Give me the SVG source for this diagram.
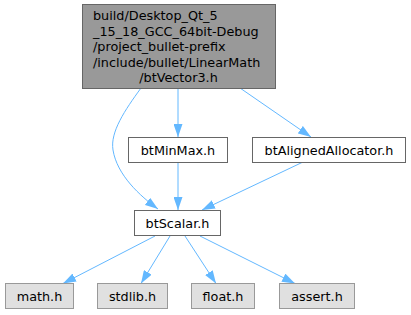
<svg xmlns="http://www.w3.org/2000/svg" width="411" height="315" viewBox="0 0 411 315">
  <defs>
    <style>
      text { font-family: "DejaVu Sans", "Liberation Sans", sans-serif; font-size: 12.8px; fill: #000; }
      .main rect { fill: #999999; stroke: #666666; stroke-width: 1; }
      .inc rect { fill: #ffffff; stroke: #666666; stroke-width: 1; }
      .sys rect { fill: #e0e0e0; stroke: #999999; stroke-width: 1; }
      .edge { fill: none; stroke: #63b8ff; stroke-width: 1; marker-end: url(#arrow); }
    </style>
    <marker id="arrow" viewBox="0 0 13 9" refX="13" refY="4.5" markerWidth="13" markerHeight="9" markerUnits="userSpaceOnUse" orient="auto">
      <path d="M0,0 L13,4.5 L0,9 z" fill="#63b8ff"/>
    </marker>
  </defs>

  <rect width="411" height="315" fill="#ffffff"/>

  <g id="edges">
    <path class="edge" d="M141,88 C125,110 110,132 113,150 C117,175 140,196 158,209"/>
    <path class="edge" d="M178,88 L178,137"/>
    <path class="edge" d="M240,88 L311,137"/>
    <path class="edge" d="M178,162 L178,210"/>
    <path class="edge" d="M303,162 L202,210"/>
    <path class="edge" d="M155,236 L63,283.5"/>
    <path class="edge" d="M170,236 L141,283.5"/>
    <path class="edge" d="M185,236 L216,283.5"/>
    <path class="edge" d="M200,236 L295,283.5"/>
  </g>

  <g id="node-btVector3" class="main">
    <rect x="82.5" y="4.5" width="193" height="84"/>
    <text x="93" y="20">build/Desktop_Qt_5</text>
    <text x="93" y="35.5">_15_18_GCC_64bit-Debug</text>
    <text x="93" y="51">/project_bullet-prefix</text>
    <text x="93" y="66.5">/include/bullet/LinearMath</text>
    <text x="178.5" y="82" text-anchor="middle">/btVector3.h</text>
  </g>

  <g id="node-btMinMax" class="inc">
    <rect x="128.5" y="137.5" width="99" height="25"/>
    <text x="178" y="154.5" text-anchor="middle">btMinMax.h</text>
  </g>

  <g id="node-btAlignedAllocator" class="inc">
    <rect x="252.5" y="137.5" width="153" height="25"/>
    <text x="329" y="154.5" text-anchor="middle">btAlignedAllocator.h</text>
  </g>

  <g id="node-btScalar" class="inc">
    <rect x="134.5" y="210.5" width="86" height="25"/>
    <text x="177.5" y="227.5" text-anchor="middle">btScalar.h</text>
  </g>

  <g id="node-math" class="sys">
    <rect x="5.5" y="283.5" width="68" height="25"/>
    <text x="39.5" y="300.5" text-anchor="middle">math.h</text>
  </g>

  <g id="node-stdlib" class="sys">
    <rect x="97.5" y="283.5" width="70" height="25"/>
    <text x="132.5" y="300.5" text-anchor="middle">stdlib.h</text>
  </g>

  <g id="node-float" class="sys">
    <rect x="191.5" y="283.5" width="63" height="25"/>
    <text x="223" y="300.5" text-anchor="middle">float.h</text>
  </g>

  <g id="node-assert" class="sys">
    <rect x="279.5" y="283.5" width="75" height="25"/>
    <text x="317" y="300.5" text-anchor="middle">assert.h</text>
  </g>
</svg>
